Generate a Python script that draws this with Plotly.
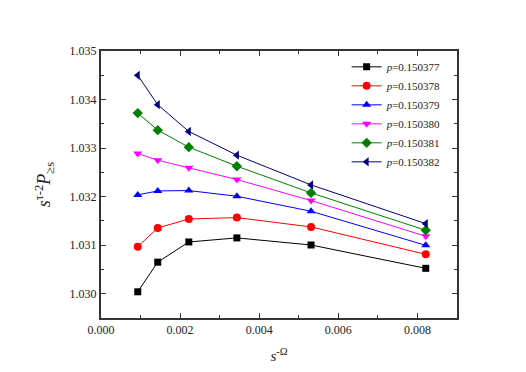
import plotly.graph_objects as go

x_vals = [0.000929, 0.001435, 0.00222, 0.003435, 0.00531, 0.00821]

labels = ["0.150377", "0.150378", "0.150379", "0.150380", "0.150381", "0.150382"]
y_377 = [1.03004, 1.03065, 1.031066, 1.03115, 1.031004, 1.030523]
y_378 = [1.03097, 1.031355, 1.03154, 1.031568, 1.031376, 1.030812]
y_379 = [1.032036, 1.032118, 1.032125, 1.032008, 1.031699, 1.030997]
y_380 = [1.032889, 1.03275, 1.032593, 1.032352, 1.031919, 1.031183]
y_381 = [1.033721, 1.03337, 1.033019, 1.032627, 1.032077, 1.031307]
y_382 = [1.034498, 1.033893, 1.033343, 1.032854, 1.032242, 1.031444]

series = [y_377, y_378, y_379, y_380, y_381, y_382]
colors = ["#000000", "#ff0000", "#0000ff", "#ff00ff", "#008000", "#000080"]
symbols = ["square", "circle", "triangle-up", "triangle-down", "diamond", "triangle-left"]
sizes = [7, 8, 8, 8, 8, 8]

font_family = "Liberation Serif, Times New Roman, serif"

fig = go.Figure()
for lab, ys, c, s, sz in zip(labels, series, colors, symbols, sizes):
    fig.add_trace(go.Scatter(
        x=x_vals, y=ys, mode="lines+markers",
        name="<i>p</i>=" + lab,
        line=dict(color=c, width=1),
        marker=dict(color=c, symbol=s, size=sz, line=dict(width=0)),
    ))

axis_common = dict(
    showline=True, linecolor="#333333", linewidth=2, mirror="ticks",
    ticks="inside", ticklen=5, tickwidth=1, tickcolor="#333333",
    showgrid=False, zeroline=False, automargin=False,
    tickfont=dict(family=font_family, size=12, color="#222222"),
)

fig.update_xaxes(
    range=[0, 0.009], tick0=0, dtick=0.002, tickformat=".3f",
    minor=dict(ticks="inside", ticklen=3, dtick=0.001, tickcolor="#333333"),
    title=dict(text="<i>s</i><sup>-Ω</sup>", font=dict(family=font_family, size=15, color="#222222"), standoff=14),
    **axis_common,
)
fig.update_yaxes(
    range=[1.0295, 1.035], tick0=1.030, dtick=0.001, tickformat=".3f",
    minor=dict(ticks="inside", ticklen=3, dtick=0.0005, tickcolor="#333333"),
    title=dict(text="<i>s</i><sup>τ-2</sup><i>P</i><sub>≥s</sub>", font=dict(family=font_family, size=18, color="#222222"), standoff=14),
    **axis_common,
)

fig.update_layout(
    width=526, height=372,
    margin=dict(l=93, r=77, t=43, b=62),
    paper_bgcolor="white", plot_bgcolor="white",
    showlegend=True,
    font=dict(family=font_family),
    legend=dict(
        x=0.69, y=0.995, xanchor="left", yanchor="top",
        font=dict(family=font_family, size=11, color="#222222"),
        bgcolor="rgba(0,0,0,0)", tracegroupgap=0, itemwidth=30,
    ),
)

fig.write_html("out.html")
